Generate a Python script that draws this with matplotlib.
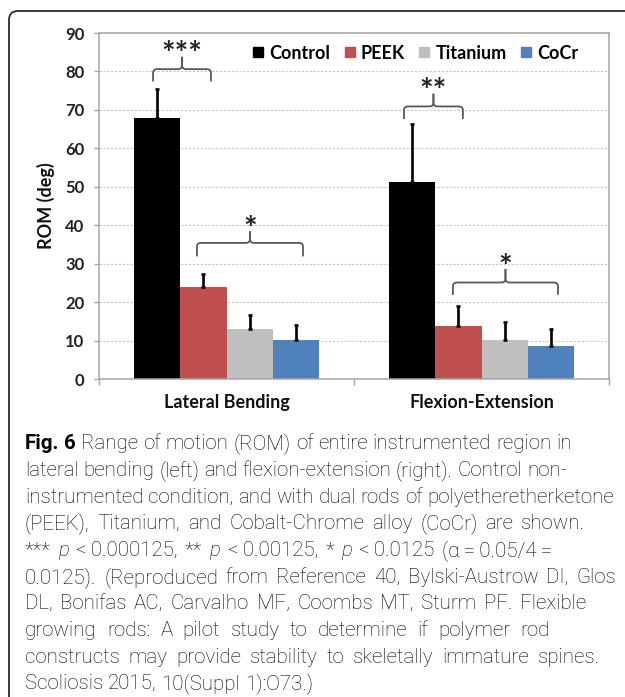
import matplotlib
matplotlib.use("Agg")
import matplotlib.pyplot as plt
from matplotlib.path import Path
from matplotlib.patches import PathPatch, FancyBboxPatch
from matplotlib.lines import Line2D
from matplotlib.transforms import IdentityTransform
from matplotlib.font_manager import FontProperties
import numpy as np

# ---------------- data ----------------
categories = ["Lateral Bending", "Flexion-Extension"]
series_names = ["Control", "PEEK", "Titanium", "CoCr"]
control = [67.8, 51.2]
peek = [23.9, 13.9]
titanium = [13.0, 10.1]
cocr = [10.1, 8.7]
control_err = [7.7, 15.0]
peek_err = [3.5, 5.1]
titanium_err = [3.6, 4.7]
cocr_err = [4.0, 4.3]
yticks = [0, 10, 20, 30, 40, 50, 60, 70, 80, 90]

# significance brackets (x in category units, y in deg)
bracket_x0 = [-0.288, -0.116, 0.696, 0.888]
bracket_x1 = [-0.061, 0.300, 0.927, 1.300]
bracket_end = [77.4, 31.9, 67.6, 21.9]
bracket_bar = [80.6, 35.4, 70.9, 25.1]
bracket_tip = [83.8, 38.4, 74.2, 28.6]
bracket_labels = ["***", "*", "**", "*"]

caption_lines = [
    [("Fig. 6", "bold"), ("Range of motion (ROM) of entire instrumented region in", "normal")],
    [("lateral bending (left) and flexion-extension (right). Control non-", "normal")],
    [("instrumented condition, and with dual rods of polyetheretherketone", "normal")],
    [("(PEEK), Titanium, and Cobalt-Chrome alloy (CoCr) are shown.", "normal")],
    [("***", "normal"), ("p", "italic"), ("<\u20090.000125, **", "normal"), ("p", "italic"),
     ("<\u20090.00125, *", "normal"), ("p", "italic"), ("<\u20090.0125 (α\u2009=\u20090.05/4\u2009=", "normal")],
    [("0.0125). (Reproduced from Reference 40, Bylski-Austrow DI, Glos", "normal")],
    [("DL, Bonifas AC, Carvalho MF, Coombs MT, Sturm PF. Flexible", "normal")],
    [("growing rods: A pilot study to determine if polymer rod", "normal")],
    [("constructs may provide stability to skeletally immature spines.", "normal")],
    [("Scoliosis 2015, 10(Suppl 1):O73.)", "normal")],
]

# ---------------- style ----------------
colors = ["#000000", "#C0504D", "#BFBFBF", "#4F81BD"]
CHART_FONT = "Lato"
CAP_FONT = "Roboto"
GRAY = "#A6A6A6"
W, H = 625, 697

plt.rcParams["font.family"] = [CHART_FONT, "DejaVu Sans"]

fig = plt.figure(figsize=(W / 100, H / 100), dpi=100)
fig.patch.set_facecolor("white")
ax = fig.add_axes([99 / W, 318 / H, 510 / W, 346 / H])

values = [control, peek, titanium, cocr]
errs = [control_err, peek_err, titanium_err, cocr_err]
x = np.arange(len(categories))
bw = 0.1815
offsets = (np.arange(4) - 1.5) * bw

for i in range(4):
    xs = x + offsets[i]
    ax.bar(xs, values[i], width=bw, color=colors[i], edgecolor="none", zorder=2,
           label=series_names[i])
    ax.errorbar(xs, values[i], yerr=[np.zeros(len(x)), errs[i]], fmt="none",
                ecolor="black", elinewidth=1.9, capsize=1.4, capthick=1.9, zorder=3)

ax.set_xlim(-0.5, 1.5)
ax.set_ylim(0, 90)
ax.set_yticks(yticks)
ax.set_yticklabels([str(v) for v in yticks], fontweight="bold", fontsize=12, color="#222222")
ax.yaxis.grid(True, linestyle=(0, (2, 1.5)), color="#C8C8C8", linewidth=0.8, zorder=0)
ax.set_axisbelow(True)

ax.set_xticks([-0.5, 0.5, 1.5])
ax.set_xticklabels([])
ax.set_xticks(x, minor=True)
ax.set_xticklabels(categories, minor=True, fontweight="bold", fontsize=13, color="#111111")
ax.tick_params(axis="x", which="major", direction="out", length=4.5, color=GRAY, width=1)
ax.tick_params(axis="x", which="minor", length=0, pad=11)
ax.tick_params(axis="y", direction="out", length=3.6, color=GRAY, width=1, pad=7)
for s in ax.spines.values():
    s.set_color(GRAY)
    s.set_linewidth(1.1)

ax.set_ylabel("ROM (deg)", fontweight="bold", fontsize=13, color="#111111", labelpad=7)

# brackets
rx = 0.016
ry = 1.0
for x0, x1, ye, yb, yt, lab in zip(bracket_x0, bracket_x1, bracket_end, bracket_bar,
                                   bracket_tip, bracket_labels):
    xm = 0.5 * (x0 + x1)
    for a, sgn in ((x0, 1), (x1, -1)):
        verts = [(a, ye), (a, yb - ry), (a, yb), (a + sgn * rx, yb),
                 (xm - sgn * rx, yb), (xm, yb), (xm, yb + ry), (xm, yt)]
        codes = [Path.MOVETO, Path.LINETO, Path.CURVE3, Path.CURVE3,
                 Path.LINETO, Path.CURVE3, Path.CURVE3, Path.LINETO]
        ax.add_patch(PathPatch(Path(verts, codes), fill=False, edgecolor="#595959",
                               linewidth=1.3, zorder=4))
    ax.text(xm, yt - 2.2, lab, ha="center", va="baseline", fontsize=23,
            fontweight="bold", color="#222222", zorder=5)

handles = [Line2D([0], [0], marker="s", linestyle="none", markersize=6.5,
                  markerfacecolor=c, markeredgecolor=c) for c in colors]
leg = ax.legend(handles, series_names, loc="center right", bbox_to_anchor=(0.94, 0.942),
                ncol=4, frameon=False, handlelength=0.7, handletextpad=0.25,
                columnspacing=0.75, borderpad=0, borderaxespad=0,
                prop=FontProperties(family=CHART_FONT, weight="bold", size=13))

# outer rounded frame
frame = FancyBboxPatch((9, -60), 720, H - 11 + 60,
                       boxstyle="round,pad=0,rounding_size=9",
                       transform=IdentityTransform(), fill=False,
                       edgecolor="#1a1a1a", linewidth=1.2)
fig.patches.append(frame)

# caption with justified lines
renderer = fig.canvas.get_renderer()


def fp_for(style, size):
    fam = [CAP_FONT, "DejaVu Sans"]
    if style == "bold":
        return FontProperties(family=fam, weight="bold", size=size)
    if style == "italic":
        return FontProperties(family=fam, style="italic", weight="light", size=size)
    return FontProperties(family=fam, weight="light", size=size)


def text_w(s, fp):
    w, h, d = renderer.get_text_width_height_descent(s, fp, ismath=False)
    return w


left = 25
ref_w = text_w(" ".join(t for t, _ in caption_lines[2]), fp_for("normal", 10))
fs = 10 * (614 - left) / ref_w

targets = [572, 567, 614, 585, 552, 616, 586, 550, 600, None]
line_y = [443, 470, 497, 523, 550, 577, 603, 630, 657, 683]
space_w = text_w("a a", fp_for("normal", fs)) - text_w("aa", fp_for("normal", fs))

for tokens, tgt, cy in zip(caption_lines, targets, line_y):
    words = []
    for t, st in tokens:
        for w_ in t.split(" "):
            if w_:
                words.append((w_, st))
    widths = [text_w(w_, fp_for(st, fs)) for w_, st in words]
    if tgt is None or len(words) < 2:
        gap = space_w
    else:
        gap = (tgt - left - sum(widths)) / (len(words) - 1)
    xx = left
    for (w_, st), ww in zip(words, widths):
        fig.text(xx / W, (H - cy - 6) / H, w_, fontproperties=fp_for(st, fs),
                 ha="left", va="baseline", color="#000000")
        xx += ww + gap

fig.savefig("out.png", dpi=100)
